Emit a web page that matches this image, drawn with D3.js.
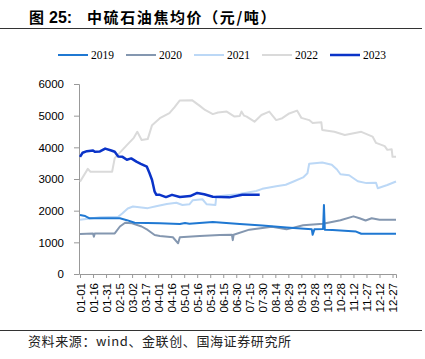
<!DOCTYPE html>
<html>
<head>
<meta charset="utf-8">
<script src="https://cdn.jsdelivr.net/npm/d3@7"></script>
<style>
  body { margin: 0; background: #fff; }
  svg { display: block; }
</style>
</head>
<body>
<div id="mainContainer"></div>
<script>
// day of year (0 = 01-01), price in yuan/ton
var years = ["2019", "2020", "2021", "2022", "2023"];
var colors = ["#1f78d2", "#8497b0", "#bcd8f6", "#dadada", "#0a33c8"];

var s2019 = [[0,1860],[6,1830],[11,1760],[46,1760],[54,1700],[63,1620],[92,1600],[115,1580],[121,1610],[126,1590],
  [153,1640],[184,1580],[210,1530],[238,1470],[267,1410],[268,1240],[270,1410],[280,1420],[281,2180],[282,1400],
  [291,1390],[318,1340],[324,1270],[364,1270]];
var s2020 = [[0,1260],[15,1280],[16,1180],[17,1280],[40,1280],[46,1500],[52,1620],[60,1600],[71,1500],[78,1390],
  [86,1230],[92,1200],[107,1160],[113,970],[115,1160],[138,1200],[161,1230],[175,1240],[176,1070],[177,1240],
  [195,1400],[221,1490],[238,1410],[257,1540],[280,1590],[300,1700],[315,1820],[322,1760],[329,1690],[336,1760],
  [345,1710],[364,1710]];
var s2021 = [[0,1710],[23,1790],[44,1810],[49,1920],[55,2070],[61,2130],[78,2080],[89,2150],[100,2210],[111,2250],
  [118,2180],[126,2200],[130,2330],[141,2360],[146,2200],[156,2180],[157,2450],[170,2490],[182,2520],[203,2620],
  [210,2690],[226,2770],[237,2820],[246,2920],[257,3050],[262,3180],[264,3480],[279,3520],[290,3450],[296,3300],
  [300,3150],[310,3120],[320,2930],[330,2870],[341,2880],[343,2710],[354,2810],[364,2920]];
var s2022 = [[0,2915],[9,3320],[12,3230],[37,3230],[40,3660],[54,4070],[62,4300],[66,4490],[71,4230],[78,4260],
  [83,4700],[92,4920],[103,5080],[109,5270],[115,5480],[129,5490],[138,5310],[144,5180],[153,5050],[159,5100],
  [169,5130],[178,4970],[184,4990],[186,5130],[189,5000],[192,4970],[201,4810],[209,5020],[218,5130],[226,4860],
  [233,4920],[241,5070],[250,5160],[255,4930],[264,4860],[268,4770],[278,4790],[279,4550],[293,4490],[305,4390],
  [324,4490],[337,4340],[341,4140],[351,4040],[354,3920],[359,3940],[360,3700],[364,3700]];
var s2023 = [[0,3700],[3,3830],[8,3880],[15,3900],[17,3860],[23,3870],[29,3960],[36,3900],[40,3860],[44,3710],
  [49,3700],[54,3610],[59,3650],[65,3550],[70,3480],[77,3390],[80,3190],[83,2970],[86,2600],[88,2500],[92,2500],
  [99,2430],[106,2500],[115,2430],[127,2460],[135,2560],[143,2520],[153,2440],[172,2420],[187,2500],[207,2500]];
var series = [s2019, s2020, s2021, s2022, s2023];

var yTicks = [0, 1000, 2000, 3000, 4000, 5000, 6000];
var xTicks = d3.range(0, 361, 15);

var width = 425, height = 359;
var svg = d3.select('#mainContainer').append('svg')
    .attr('width', width)
    .attr('height', height);

// title + rules
var title = svg.append("text")
    .attr("y", 23)
    .attr("font-family", "Noto Sans CJK SC")
    .attr("font-weight", "bold")
    .attr("font-size", "15px");
title.append("tspan").attr("x", 29).text("图");
title.append("tspan").attr("x", 49).attr("font-family", "Liberation Sans, Arial, sans-serif").attr("font-size", "16px").text("25:");
title.append("tspan").attr("x", 87).attr("letter-spacing", "1.6px").text("中硫石油焦均价（元/吨）");

svg.append("line").attr("x1", 0).attr("x2", 422).attr("y1", 28.5).attr("y2", 28.5)
    .attr("stroke", "#333").attr("stroke-width", 1);
svg.append("line").attr("x1", 0).attr("x2", 422).attr("y1", 330.5).attr("y2", 330.5)
    .attr("stroke", "#333").attr("stroke-width", 1);
svg.append("text")
    .attr("x", 28).attr("y", 346)
    .attr("font-family", "Noto Sans CJK SC")
    .attr("font-size", "13px")
    .attr("letter-spacing", "0.6px")
    .attr("fill", "#222")
    .text("资料来源：wind、金联创、国海证券研究所");

var xscale = d3.scaleLinear().domain([0, 364]).range([80, 396]);
var yscale = d3.scaleLinear().domain([0, 6000]).range([274, 84]);

var fmt = d3.timeFormat("%m-%d");

var yAxis = svg.append("g")
    .attr("transform", "translate(79,0)")
    .call(d3.axisLeft(yscale).tickValues(yTicks).tickSize(5).tickPadding(10).tickFormat(d3.format("d")));
var xAxis = svg.append("g")
    .attr("transform", "translate(0,274)")
    .call(d3.axisBottom(xscale).tickValues(xTicks).tickSize(4)
        .tickFormat(function (d) { return fmt(new Date(2019, 0, 1 + d)); }));
xAxis.selectAll("text")
    .attr("transform", "rotate(-90)")
    .attr("text-anchor", "end")
    .attr("x", -9).attr("y", 0).attr("dy", "0.35em");

[xAxis, yAxis].forEach(function (a) {
    a.selectAll("path, line").attr("stroke", "#999");
    a.selectAll("text").attr("fill", "#000")
        .attr("font-family", "Liberation Sans, Arial, sans-serif")
        .attr("font-size", "11.5px");
});

var line = d3.line()
    .x(function (d) { return xscale(d[0]); })
    .y(function (d) { return yscale(d[1]); });

// draw in order: light ones back
var order = [3, 2, 1, 0, 4];
order.forEach(function (i) {
    svg.append("path")
        .datum(series[i])
        .attr("fill", "none")
        .attr("stroke", colors[i])
        .attr("stroke-width", i == 4 ? 2.5 : 2)
        .attr("stroke-linejoin", "round")
        .attr("d", line);
});

// legend
var lg = svg.append("g").selectAll("g")
    .data(years)
    .enter().append("g")
    .attr("transform", function (d, i) { return "translate(" + (58 + i * 68) + ",55)"; });
lg.append("line")
    .attr("x1", 0).attr("x2", 30).attr("y1", 0).attr("y2", 0)
    .attr("stroke", function (d, i) { return colors[i]; })
    .attr("stroke-width", function (d, i) { return i == 4 ? 2.5 : 2; });
lg.append("text")
    .attr("x", 33).attr("y", 4)
    .attr("font-family", "Liberation Serif, Times New Roman, serif")
    .attr("font-size", "11.5px")
    .text(function (d) { return d; });
</script>
</body>
</html>
